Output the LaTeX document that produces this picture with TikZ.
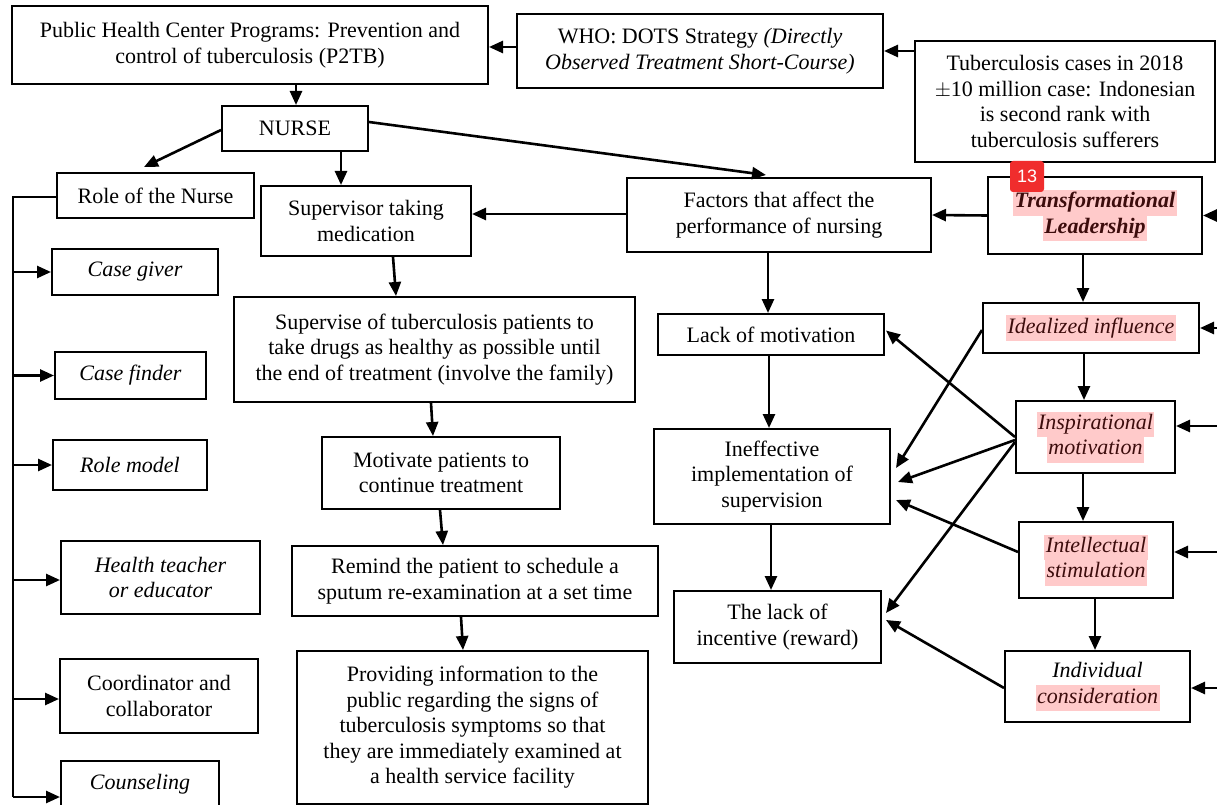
\documentclass[tikz,border=0pt]{standalone}
\usepackage{fontspec}
\setmainfont{Liberation Serif}
\newfontfamily\badgefont{Liberation Sans}
\usetikzlibrary{arrows.meta,calc}
\definecolor{hlpink}{RGB}{255,202,202}
\definecolor{hltext}{RGB}{60,12,12}
\definecolor{badgered}{RGB}{240,45,45}
\newcommand\hlt[1]{{\setlength{\fboxsep}{0pt}\colorbox{hlpink}{\strut\hspace{1.5pt}\textcolor{hltext}{#1}\hspace{1.5pt}}}}
\tikzset{
  box/.style={draw, line width=2pt, rectangle, inner sep=0pt, align=center,
    font=\fontsize{22}{25.5}\selectfont},
  lin/.style={line width=2.6pt},
  arr/.style={line width=2.6pt, -{Triangle[length=14pt,width=12pt]}},
}
\begin{document}
\begin{tikzpicture}[x=1pt,y=-1pt]
\useasboundingbox[fill=white] (0,0) rectangle (1217,805);
% nodes
\node[box, minimum width=476, minimum height=78] (p2tb) at (250,45) {Public Health Center Programs: Prevention and\\control of tuberculosis (P2TB)};
\node[box, minimum width=366, minimum height=74] (who) at (700,51) {WHO: DOTS Strategy \textit{(Directly}\\\textit{Observed Treatment Short-Course)}};
\node[box, minimum width=300, minimum height=121] (tbc) at (1065,101.5) {Tuberculosis cases in 2018\\$\pm$10 million case: Indonesian\\is second rank with\\tuberculosis sufferers};
\node[box, minimum width=146, minimum height=45] (nurse) at (295,128.5) {NURSE};
\node[box, minimum width=197, minimum height=45] (role) at (155.5,195.5) {Role of the Nurse};
\node[box, minimum width=210, minimum height=70] (sup) at (366,221) {Supervisor taking\\medication};
\node[box, minimum width=304, minimum height=74] (fac) at (779,215) {Factors that affect the\\performance of nursing};
\node[box, minimum width=214, minimum height=77] (tl) at (1095,215.5) {\hlt{\textbf{\textit{Transformational}}}\\\hlt{\textbf{\textit{Leadership}}}};
\node[box, minimum width=166, minimum height=46] (cg) at (135,272) {\textit{Case giver}};
\node[box, minimum width=401, minimum height=105] (spv) at (434.5,349.5) {Supervise of tuberculosis patients to\\take drugs as healthy as possible until\\the end of treatment (involve the family)};
\node[box, minimum width=226, minimum height=41] (lom) at (771,334.5) {Lack of motivation};
\node[box, minimum width=216, minimum height=50] (ii) at (1091,328) {\hlt{\textit{Idealized influence}}};
\node[box, minimum width=151, minimum height=47] (cf) at (130.5,375.5) {\textit{Case finder}};
\node[box, minimum width=159, minimum height=72] (im) at (1095.5,437) {\hlt{\textit{Inspirational}}\\\hlt{\textit{motivation}}};
\node[box, minimum width=236, minimum height=95] (ief) at (772,476.5) {Ineffective\\implementation of\\supervision};
\node[box, minimum width=238, minimum height=72] (mot) at (441,473) {Motivate patients to\\continue treatment};
\node[box, minimum width=154, minimum height=50] (rm) at (130,465) {\textit{Role model}};
\node[box, minimum width=366, minimum height=70] (rem) at (475,581) {Remind the patient to schedule a\\sputum re-examination at a set time};
\node[box, minimum width=154, minimum height=76] (is) at (1096,560) {\hlt{\textit{Intellectual}}\\\hlt{\textit{stimulation}}};
\node[box, minimum width=207, minimum height=72] (loi) at (777.5,627) {The lack of\\incentive (reward)};
\node[box, minimum width=185, minimum height=71] (ic) at (1097.5,686.5) {\textit{Individual}\\\hlt{\textit{consideration}}};
\node[box, minimum width=199, minimum height=73] (ht) at (160.5,577.5) {\textit{Health teacher}\\\textit{or educator}};
\node[box, minimum width=198, minimum height=74] (coord) at (159,696) {Coordinator and\\collaborator};
\node[box, minimum width=158, minimum height=47] (couns) at (140,784.5) {\textit{Counseling}};
\node[box, minimum width=351, minimum height=153] (prov) at (472.5,727.5) {Providing information to the\\public regarding the signs of\\tuberculosis symptoms so that\\they are immediately examined at\\a health service facility};
% badge
\node[fill=badgered, rounded corners=3pt, minimum width=34, minimum height=31, inner sep=0pt,
  text=white, font=\badgefont\fontsize{18}{20}\selectfont] (badge) at (1027,176.5) {13};
% helper coordinates
\coordinate (edge) at (1232,0);
\coordinate (bus) at (13,0);
\coordinate (busend) at (13,797);
\coordinate (imE) at ([shift={(0,-11)}]im.east);
\coordinate (isE) at ([shift={(0,-8)}]is.east);
\coordinate (icE) at ([shift={(0,1.5)}]ic.east);
\coordinate (htW) at ([shift={(0,2.5)}]ht.west);
\coordinate (coordW) at ([shift={(0,3)}]coord.west);
% top arrows
\draw[arr] ([shift={(0,-4)}]who.west) -- ([shift={(0,2)}]p2tb.east);
\draw[arr] ([shift={(0,-50.5)}]tbc.west) -- (who.east);
\draw[arr] ([shift={(46,0)}]p2tb.south) -- ([shift={(1,0)}]nurse.north);
\draw[arr] ([shift={(0,1.5)}]nurse.west) -- ([shift={(-11.5,-5)}]role.north);
\draw[arr] ([shift={(46,0)}]nurse.south) -- ([shift={(-25,0)}]sup.north);
\draw[arr] ([shift={(0,-6.5)}]nurse.east) -- ([shift={(-13,-2)}]fac.north);
\draw[arr] ([shift={(0,-1)}]fac.west) -- ([shift={(0,-7)}]sup.east);
\draw[arr] (tl.west) -- (fac.east);
% left chain
\draw[arr] ([shift={(27,0)}]sup.south) -- ([shift={(-38.5,0)}]spv.north);
\draw[arr] ([shift={(-3.5,0)}]spv.south) -- ([shift={(-8,0)}]mot.north);
\draw[arr] ([shift={(-1,0)}]mot.south) -- ([shift={(-32,0)}]rem.north);
\draw[arr] ([shift={(-14,0)}]rem.south) -- ([shift={(-9.5,0)}]prov.north);
% middle chain
\draw[arr] ([shift={(-11,0)}]fac.south) -- ([shift={(-3,0)}]lom.north);
\draw[arr] ([shift={(-2,0)}]lom.south) -- ([shift={(-3,0)}]ief.north);
\draw[arr] ([shift={(-1,0)}]ief.south) -- ([shift={(-6.5,0)}]loi.north);
% right chain
\draw[arr] ([shift={(-12,0)}]tl.south) -- ([shift={(-8,0)}]ii.north);
\draw[arr] ([shift={(-7,0)}]ii.south) -- ([shift={(-11.5,0)}]im.north);
\draw[arr] ([shift={(-12.5,0)}]im.south) -- ([shift={(-13,0)}]is.north);
\draw[arr] ([shift={(-1,0)}]is.south) -- ([shift={(-2.5,0)}]ic.north);
% external arrows from the right edge
\draw[arr] (edge |- tl.east) -- (tl.east);
\draw[arr] (edge |- ii.east) -- (ii.east);
\draw[arr] (edge |- imE) -- (imE);
\draw[arr] (edge |- isE) -- (isE);
\draw[arr] (edge |- icE) -- (icE);
% diagonals
\draw[arr] ([shift={(0,2)}]ii.west) -- ([shift={(5,-8.5)}]ief.east);
\draw[arr] (im.west) -- ([shift={(1,-4)}]lom.east);
\draw[arr] ([shift={(0,3)}]im.west) -- ([shift={(7,5.5)}]ief.east);
\draw[arr] ([shift={(0,5)}]im.west) -- ([shift={(4,-14)}]loi.east);
\draw[arr] ([shift={(0,-8)}]is.west) -- ([shift={(5,23.5)}]ief.east);
\draw[arr] ([shift={(0,1.5)}]ic.west) -- ([shift={(4,-7)}]loi.east);
% role bus
\draw[lin] ([shift={(0,1.5)}]role.west) -| (busend);
\draw[arr] (bus |- cg.west) -- (cg.west);
\draw[arr] (bus |- cf.west) -- (cf.west);
\draw[arr] (bus |- rm.west) -- (rm.west);
\draw[arr] (bus |- htW) -- (htW);
\draw[arr] (bus |- coordW) -- (coordW);
\draw[arr] (busend) -- (busend -| couns.west);
\end{tikzpicture}
\end{document}
